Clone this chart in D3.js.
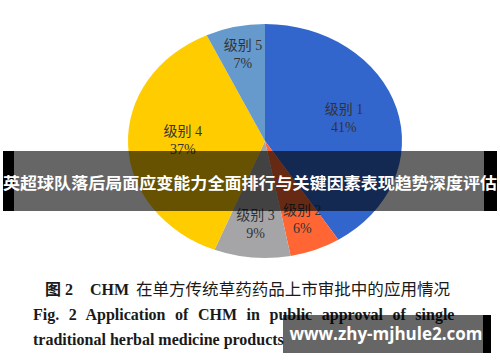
<!DOCTYPE html>
<html>
<head>
<meta charset="utf-8">
<script src="https://cdn.jsdelivr.net/npm/d3@7"></script>
<style>
  body { margin: 0; background: #fff; }
  svg { display: block; }
</style>
</head>
<body>
<div class="chart"></div>
<script>
// data
var levels = ["级别 1", "级别 2", "级别 3", "级别 4", "级别 5"];
var shares = [41, 6, 9, 37, 7];
var colors = ["#3366cc", "#ff6633", "#a5a5a8", "#ffcc00", "#6699cc"];

var bannerText = "英超球队落后局面应变能力全面排行与关键因素表现趋势深度评估";
var captionCn = ["图 2", "CHM", "在单方传统草药药品上市审批中的应用情况"];
var captionEn1 = "Fig. 2  Application of CHM in public approval of single";
var captionEn2 = "traditional herbal medicine products";
var watermark = "www.zhy-mjhule2.com";

var w = 500, h = 362;
var cx = 265, cy = 141;
var r = 117, sx = 137 / 117;   // pie is stretched sideways in the picture

var svg = d3.select(".chart").append("svg")
	.attr("width", w)
	.attr("height", h);

var data = levels.map(function (d, i) {
	return { name: d, value: shares[i], color: colors[i] };
});

var pie = d3.pie().sort(null).value(function (d) { return d.value; });
var arcs = pie(data);

var arc = d3.arc().innerRadius(0).outerRadius(r);

var pieG = svg.append("g")
	.attr("transform", "translate(" + cx + "," + cy + ") scale(" + sx + ",1)");

pieG.selectAll("path.slice")
	.data(arcs)
	.enter()
	.append("path")
	.attr("class", "slice")
	.attr("d", arc)
	.attr("fill", function (d) { return d.data.color; });

// labels: small slices sit further out
function labelPos(d) {
	var k = d.data.value < 10 ? 0.74 : 0.6;
	var c = d3.arc().innerRadius(r * k).outerRadius(r * k).centroid(d);
	return [cx + c[0] * sx, cy + c[1]];
}

var labels = svg.selectAll("g.lbl")
	.data(arcs)
	.enter()
	.append("g")
	.attr("class", "lbl")
	.attr("transform", function (d) {
		var p = labelPos(d);
		return "translate(" + p[0] + "," + p[1] + ")";
	})
	.style("font-family", "'Liberation Serif', 'Noto Sans CJK SC', serif")
	.style("font-size", "14px")
	.attr("fill", "#333")
	.attr("text-anchor", "middle");

labels.append("text")
	.attr("y", -7)
	.text(function (d) { return d.data.name; });
labels.append("text")
	.attr("y", 11)
	.text(function (d) { return d.data.value + "%"; });

// dark banner across the middle
svg.append("rect")
	.attr("x", 14).attr("y", 151)
	.attr("width", 470).attr("height", 60)
	.attr("fill", "rgba(0,0,0,0.6)");
svg.append("rect")
	.attr("x", 3).attr("y", 151)
	.attr("width", 11).attr("height", 60)
	.attr("fill", "#000");
svg.append("rect")
	.attr("x", 484).attr("y", 151)
	.attr("width", 13).attr("height", 60)
	.attr("fill", "#000");
svg.append("text")
	.attr("x", 250).attr("y", 189)
	.attr("text-anchor", "middle")
	.attr("fill", "#fff")
	.style("font-family", "'Noto Sans CJK SC', sans-serif")
	.style("font-weight", "bold")
	.style("font-size", "16px")
	.attr("textLength", 494)
	.attr("lengthAdjust", "spacingAndGlyphs")
	.text(bannerText);

// caption
var cap = svg.append("g")
	.attr("fill", "#1a1a1a")
	.style("font-family", "'Liberation Serif', 'Noto Sans CJK SC', serif");

cap.append("text")
	.attr("x", 45).attr("y", 295)
	.style("font-size", "16px")
	.style("font-weight", "bold")
	.text(captionCn[0]);
cap.append("text")
	.attr("x", 90).attr("y", 295)
	.style("font-size", "16px")
	.style("font-weight", "bold")
	.text(captionCn[1]);
cap.append("text")
	.attr("x", 136).attr("y", 295)
	.style("font-size", "16px")
	.attr("textLength", 314)
	.attr("lengthAdjust", "spacingAndGlyphs")
	.text(captionCn[2]);

var en1 = cap.append("text")
	.attr("x", 33).attr("y", 320)
	.style("font-size", "16px")
	.style("font-weight", "bold")
	.text(captionEn1);
var len1 = en1.node().getComputedTextLength();
var spaces = captionEn1.split(" ").length - 1;
en1.style("word-spacing", ((427 - len1) / spaces) + "px");

cap.append("text")
	.attr("x", 33).attr("y", 345)
	.style("font-size", "16px")
	.style("font-weight", "bold")
	.text(captionEn2);

// watermark box
svg.append("rect")
	.attr("x", 283).attr("y", 315)
	.attr("width", 200).attr("height", 38)
	.attr("fill", "rgba(0,0,0,0.6)");
svg.append("rect")
	.attr("x", 483).attr("y", 315)
	.attr("width", 8).attr("height", 38)
	.attr("fill", "#000");
svg.append("text")
	.attr("x", 386).attr("y", 340)
	.attr("text-anchor", "middle")
	.attr("fill", "#fff")
	.style("font-family", "'Open Sans', sans-serif")
	.style("font-weight", "bold")
	.style("font-size", "17px")
	.text(watermark);
</script>
</body>
</html>
